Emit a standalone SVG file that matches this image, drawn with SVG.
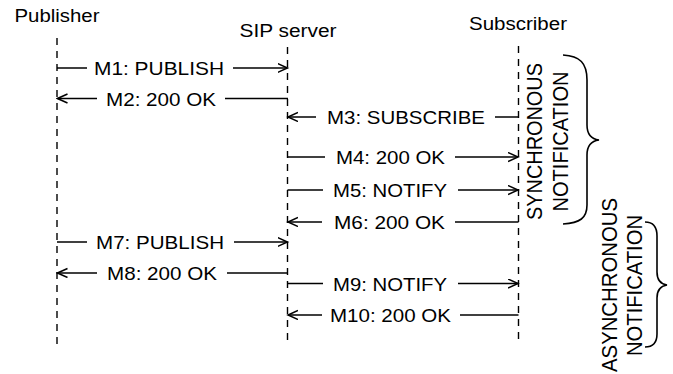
<svg xmlns="http://www.w3.org/2000/svg" width="673" height="374" viewBox="0 0 673 374">
<defs>
<style>
text{font-family:"Liberation Sans",Arial,Helvetica,sans-serif;fill:#000}
.hdr{font-size:18px;text-anchor:middle}
.msg{font-size:19px}
.vt{font-size:22px;text-anchor:middle}
.life{stroke:#000;stroke-width:1.4;stroke-dasharray:7 6;fill:none}
.ln{stroke:#000;stroke-width:1.5;fill:none}
.hd{stroke:#000;stroke-width:1.5;fill:none;marker-end:url(#ah)}
.brace{stroke:#000;stroke-width:1.6;fill:none}
</style>
<marker id="ah" markerWidth="12" markerHeight="12" refX="10" refY="5" orient="auto" markerUnits="userSpaceOnUse">
<path d="M0,0.5 L10,5 L0,9.5" fill="none" stroke="#000" stroke-width="1.5"/>
</marker>
</defs>
<rect width="673" height="374" fill="#fff"/>

<g id="publisher">
<text class="hdr" x="57" y="22" textLength="85" lengthAdjust="spacingAndGlyphs">Publisher</text>
<line class="life" x1="57" y1="38" x2="57" y2="344"/>
</g>
<g id="sip-server">
<text class="hdr" x="288" y="37" textLength="97" lengthAdjust="spacingAndGlyphs">SIP server</text>
<line class="life" x1="287.5" y1="47" x2="287.5" y2="344"/>
</g>
<g id="subscriber">
<text class="hdr" x="518" y="30" textLength="98" lengthAdjust="spacingAndGlyphs">Subscriber</text>
<line class="life" x1="518.5" y1="46" x2="518.5" y2="344"/>
</g>

<g id="connectors">
<g id="m1">
<line class="ln" x1="57" y1="68" x2="87" y2="68"/>
<text class="msg" x="94" y="75" textLength="130" lengthAdjust="spacingAndGlyphs">M1: PUBLISH</text>
<line class="hd" x1="233" y1="68" x2="287.5" y2="68"/>
</g>
<g id="m2">
<line class="ln" x1="288" y1="98.5" x2="225" y2="98.5"/>
<text class="msg" x="106" y="105.5" textLength="110" lengthAdjust="spacingAndGlyphs">M2: 200 OK</text>
<line class="hd" x1="97" y1="98.5" x2="57.5" y2="98.5"/>
</g>
<g id="m3">
<line class="ln" x1="518.5" y1="117" x2="495" y2="117"/>
<text class="msg" x="327" y="124" textLength="158" lengthAdjust="spacingAndGlyphs">M3: SUBSCRIBE</text>
<line class="hd" x1="316" y1="117" x2="288" y2="117"/>
</g>
<g id="m4">
<line class="ln" x1="287.5" y1="157" x2="325" y2="157"/>
<text class="msg" x="336" y="164" textLength="109" lengthAdjust="spacingAndGlyphs">M4: 200 OK</text>
<line class="hd" x1="455" y1="157" x2="518" y2="157"/>
</g>
<g id="m5">
<line class="ln" x1="287.5" y1="190" x2="323" y2="190"/>
<text class="msg" x="333" y="197" textLength="114" lengthAdjust="spacingAndGlyphs">M5: NOTIFY</text>
<line class="hd" x1="458" y1="190" x2="518" y2="190"/>
</g>
<g id="m6">
<line class="ln" x1="518.5" y1="222" x2="455" y2="222"/>
<text class="msg" x="334" y="229" textLength="111" lengthAdjust="spacingAndGlyphs">M6: 200 OK</text>
<line class="hd" x1="322" y1="222" x2="288" y2="222"/>
</g>
<g id="m7">
<line class="ln" x1="57" y1="242" x2="87" y2="242"/>
<text class="msg" x="96" y="249" textLength="128" lengthAdjust="spacingAndGlyphs">M7: PUBLISH</text>
<line class="hd" x1="234" y1="242" x2="287.5" y2="242"/>
</g>
<g id="m8">
<line class="ln" x1="288" y1="273" x2="227" y2="273"/>
<text class="msg" x="107" y="280" textLength="110" lengthAdjust="spacingAndGlyphs">M8: 200 OK</text>
<line class="hd" x1="97" y1="273" x2="57.5" y2="273"/>
</g>
<g id="m9">
<line class="ln" x1="287.5" y1="283.5" x2="323" y2="283.5"/>
<text class="msg" x="333" y="290.5" textLength="114" lengthAdjust="spacingAndGlyphs">M9: NOTIFY</text>
<line class="hd" x1="458" y1="283.5" x2="518" y2="283.5"/>
</g>
<g id="m10">
<line class="ln" x1="518.5" y1="315" x2="460" y2="315"/>
<text class="msg" x="330" y="322" textLength="121" lengthAdjust="spacingAndGlyphs">M10: 200 OK</text>
<line class="hd" x1="322" y1="315" x2="288" y2="315"/>
</g>
</g>

<g id="sync-notification">
<text class="vt" transform="translate(541.5,141.5) rotate(-90)" x="0" y="0" textLength="157" lengthAdjust="spacingAndGlyphs">SYNCHRONOUS</text>
<text class="vt" transform="translate(568,141.5) rotate(-90)" x="0" y="0" textLength="140" lengthAdjust="spacingAndGlyphs">NOTIFICATION</text>
<path class="brace" d="M563 55 C580 56 587 63 587 80 L587 125 C587 134 591 139 599 140 C591 141 587 146 587 155 L587 205 C587 218 580 223 563 224"/>
</g>
<g id="async-notification">
<text class="vt" transform="translate(616.5,285) rotate(-90)" x="0" y="0" textLength="174" lengthAdjust="spacingAndGlyphs">ASYNCHRONOUS</text>
<text class="vt" transform="translate(641.5,285.5) rotate(-90)" x="0" y="0" textLength="141" lengthAdjust="spacingAndGlyphs">NOTIFICATION</text>
<path class="brace" d="M645 222 C652 222 657 226 657 236 L657 272 C657 280 660 284 667 285 C660 286 657 290 657 298 L657 334 C657 343 652 347 645 347"/>
</g>
</svg>
